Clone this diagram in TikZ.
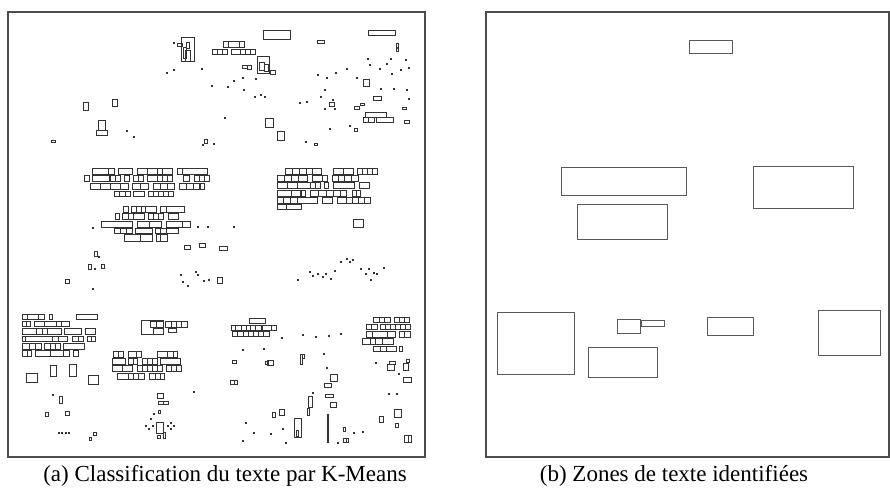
\documentclass[tikz,border=0pt]{standalone}
\usepackage{fontspec}
\setmainfont{Liberation Serif}
\tikzset{
  panel/.style={draw=black!70, line width=1.1pt},
  word/.style={draw=black!80, line width=0.5pt},
  zone/.style={draw=black!65, line width=0.8pt},
  speck/.style={fill=black!80},
  legend/.style={font=\fontsize{23}{26}\selectfont, anchor=base}
}
\begin{document}
\begin{tikzpicture}[x=1pt, y=-1pt]
    \useasboundingbox (0,0) rectangle (890,495);

    % Left: K-Means clusters
    \draw[panel] (8,12) rectangle (425,457);

    % Lines of words (y top / y bottom / word boxes)
    \foreach \ya/\yb/\xl in {
        % top
        41/47/{223/228,228/239,239/244},
        49/54/{212/217,217/222,222/227,231/240,240/245,245/250,250/255},
        112/117/{365/386},
        117/122/{363/368,368/374,376/393},
        % left centre block
        168/174/{92/108,108/114,118/132,137/147,147/157,157/162,162/172,177/182,182/207},
        175/181/{84/89,92/109,110/115,115/120,124/129,133/138,138/143,147/157,157/162,162/167,167/172,183/189,194/199,199/204,204/209},
        183/189/{90/100,100/110,110/120,120/128,132/140,140/148,153/160,160/167,167/174,179/186,186/193,193/200,199/204},
        191/196/{114/119,119/125,125/130,133/144,148/153,153/158,158/163,163/168,168/173},
        206/212/{123/128,131/136,136/141,141/145,145/156,160/166,166/184},
        213/219/{115/119,122/128,128/133,133/144,148/153,153/158,158/163,168/178},
        221/227/{101/132,137/149,149/161,166/182,182/190},
        228/233/{114/120,120/126,126/132,135/152,155/160,160/166,166/178},
        234/241/{124/140,140/152,156/160,160/167},
        % right centre block
        168/174/{285/292,292/299,299/306,306/312,312/321,333/343,343/353,357/362,362/367,367/372,372/377},
        175/181/{277/284,284/291,291/298,298/307,312/322,322/327,332/338,338/344,344/351,351/358},
        182/188/{277/287,287/297,297/310,310/315,315/320,324/328,333/354,359/369},
        190/196/{277/291,291/300,301/305,310/318,318/326,326/333,333/340,340/346,352/356,356/360},
        197/203/{277/283,283/290,290/297,297/317,322/332,337/346,346/352,352/358,358/364,364/370},
        204/209/{277/286,286/301},
        % bottom left block
        314/319/{22/27,27/38,38/44,49/52,76/97},
        321/326/{22/26,26/30,34/44,44/56,56/61,61/69},
        328/334/{22/36,36/42,42/47,47/61,64/81,85/95},
        336/341/{22/25,25/52,52/58,58/67,72/78,78/83,87/91,91/95},
        343/349/{22/29,29/35,35/41,44/50,50/55,55/60,63/84},
        350/356/{22/27,27/31,35/50,50/63,63/69,73/78},
        % bottom centre block
        321/327/{150/156,156/163,165/171,171/176,176/181,181/187},
        351/357/{113/118,118/123,128/136,136/141,157/167,167/173,173/177},
        358/364/{112/125,128/133,133/137,142/147,147/152,152/157,160/180},
        365/371/{112/122,122/132,137/142,142/147,147/152,152/157,157/162,166/171,171/176,176/181},
        373/379/{117/128,128/133,133/138,138/144,149/155,155/160,160/164},
        % bottom middle block
        325/330/{231/235,235/241,241/246,246/250,250/255,255/261,262/271,271/276},
        331/336/{232/237,237/243,243/248,248/253,253/258,258/263,263/269},
        % bottom right block
        317/322/{373/379,379/384,384/390,394/399,399/404,404/409},
        324/329/{366/371,371/377,380/385,385/390,390/395,395/400,400/405,405/410},
        331/337/{366/372,372/387,387/395,399/404,404/410},
        338/344/{362/370,370/375,375/382,382/393},
        346/351/{373/380,380/386,386/396,399/402}}{
        \foreach \xa/\xb in \xl {\draw[word] (\xa,\ya) rectangle (\xb,\yb);}
    }

    % Isolated boxes
    \foreach \xa/\ya/\xb/\yb in {
        263/30/290/39, 368/30/395/35, 317/40/324/43, 396/43/398/47, 396/48/398/51,
        181/37/194/61, 177/43/182/46, 186/42/189/48, 183/47/186/58, 185/50/190/61,
        257/56/269/73, 259/62/264/70, 264/64/268/71, 270/70/275/74, 242/65/247/68, 247/65/251/69,
        363/79/369/86, 373/96/381/100, 402/107/406/109, 354/106/359/109, 360/103/364/105,
        354/128/357/131, 329/102/334/106, 404/120/409/123, 83/102/88/110, 112/99/117/106,
        98/120/105/130, 96/130/107/135, 51/140/55/142, 265/118/273/127, 277/131/284/140,
        204/139/207/143, 314/143/317/145,
        353/219/363/227, 184/245/190/249, 199/243/205/247, 219/246/227/250, 94/251/97/256,
        88/264/91/269, 101/264/104/268, 65/279/69/283, 217/277/222/283,
        26/373/37/382, 50/365/56/376, 69/364/76/376, 88/375/98/384, 59/396/62/403,
        45/412/48/416, 65/411/69/415, 93/432/96/435, 89/437/91/440,
        141/320/163/334, 153/328/163/334, 168/328/176/332,
        157/393/163/398, 158/401/163/404, 163/401/168/404, 156/422/163/433,
        157/435/160/438, 163/432/165/438, 158/410/160/413,
        249/318/265/323,
        387/364/394/370, 389/361/395/364, 403/363/408/370, 406/359/409/362, 403/377/411/382,
        394/409/401/417, 379/416/383/422, 395/423/398/427, 404/435/408/442, 408/435/411/442,
        330/374/337/381, 324/383/331/387, 325/394/333/397, 330/402/336/407, 308/396/312/407,
        307/408/309/415, 294/418/301/437, 296/430/298/436, 327/414/328/432, 327/430/328/442,
        300/354/302/364, 302/354/304/358, 343/438/346/442, 346/438/348/442, 267/360/273/365,
        265/361/268/364, 232/360/236/363, 230/380/234/384, 234/380/237/384, 272/412/275/417,
        279/409/284/415, 343/427/345/431}
        \draw[word] (\xa,\ya) rectangle (\xb,\yb);

    % Specks
    \foreach \px/\py in {
        173/42, 166/72, 173/69, 201/68, 211/85, 227/86, 233/80, 242/77, 255/78, 243/89,
        254/96, 260/94, 264/96, 224/117, 126/130, 133/136, 202/144, 213/143, 299/102, 305/141,
        317/74, 326/77, 335/72, 346/68, 356/77, 324/89, 320/96, 324/108, 334/108, 332/99,
        329/128, 349/125, 367/58, 369/64, 379/68, 386/63, 390/58, 391/73, 400/69, 405/59,
        408/67, 380/88, 393/88, 406/89, 408/98, 92/288, 94/268, 92/227, 197/226, 207/226,
        233/226, 180/274, 182/281, 187/285, 195/271, 197/274, 203/280, 208/279, 297/279, 309/271,
        312/275, 317/273, 322/276, 325/273, 330/278, 334/270, 340/261, 346/258, 349/261, 352/259,
        360/268, 365/273, 368/268, 373/272, 376/273, 383/267, 370/279, 242/349, 263/348, 281/337,
        302/334, 315/336, 328/335, 340/333, 323/353, 326/367, 312/392, 245/422, 253/432, 270/433,
        282/428, 285/442, 242/440, 353/432, 362/431, 337/442, 375/362, 398/373, 388/393, 396/393,
        153/413, 150/418, 145/425, 148/428, 152/425, 167/425, 170/428, 173/425, 170/422, 193/391,
        58/432, 61/432, 65/432, 68/432, 52/394, 306/101, 98/256}
        \fill[speck] (\px,\py) rectangle ++(1.6,1.6);

    % Right: identified text zones
    \draw[panel] (486,12) rectangle (889,457);
    \foreach \xa/\ya/\xb/\yb in {
        689/40/732/53, 561/167/686/195, 577/204/667/239, 753/166/853/208,
        497/312/574/374, 617/319/640/333, 641/320/664/326, 707/317/753/335,
        818/310/880/355, 588/347/657/377}
        \draw[zone] (\xa,\ya) rectangle (\xb,\yb);

    % Captions
    \node[legend] (capa) at (225,481) {(a) Classification du texte par K-Means};
    \node[legend] (capb) at (674,481) {(b) Zones de texte identifiées};
\end{tikzpicture}
\end{document}
